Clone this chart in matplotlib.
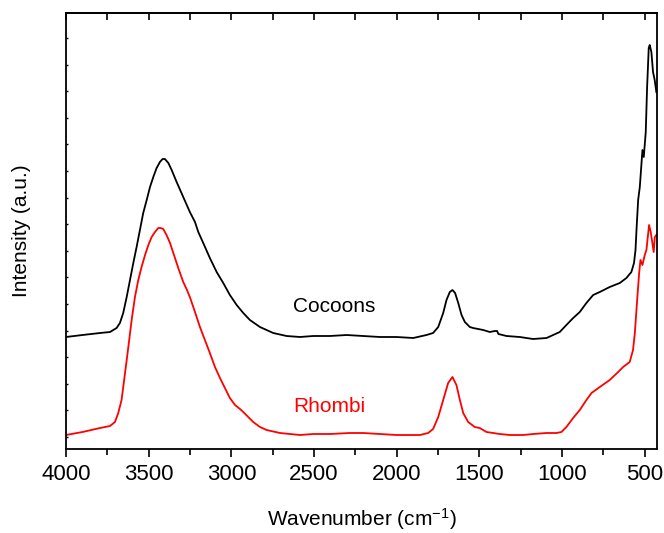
import matplotlib
matplotlib.use("Agg")
import matplotlib.pyplot as plt
from matplotlib.ticker import MultipleLocator, FixedLocator
import numpy as np

plt.rcParams['font.family'] = ['Liberation Sans', 'DejaVu Sans']
plt.rcParams['mathtext.fontset'] = 'custom'
plt.rcParams['mathtext.rm'] = 'Liberation Sans'
plt.rcParams['mathtext.it'] = 'Liberation Sans'

# Cocoons (black) spectrum: wavenumber (cm-1), intensity (a.u.)
wn_cocoons = [4000, 3900, 3794, 3734, 3694, 3674, 3654, 3633, 3613, 3593, 3573, 3553,
              3533, 3512, 3492, 3472, 3452, 3432, 3416, 3402, 3381, 3361, 3331, 3291,
              3251, 3220, 3200, 3170, 3130, 3089, 3049, 3009, 2968, 2928, 2888, 2827,
              2747, 2666, 2585, 2505, 2404, 2303, 2203, 2102, 2001, 1900, 1820, 1780,
              1749, 1719, 1699, 1679, 1663, 1647, 1628, 1608, 1588, 1558, 1538, 1477,
              1437, 1407, 1393, 1385, 1336, 1256, 1175, 1094, 1054, 1014, 974, 933,
              893, 853, 812, 772, 712, 651, 611, 581, 565, 556, 550, 540, 530, 514,
              506, 494, 486, 476, 470, 460, 450, 440, 430]
int_cocoons = [112, 114, 116, 117, 121, 126, 136, 152, 169, 186, 202, 219,
               236, 249, 262, 272, 281, 287, 290, 290, 286, 279, 267, 252,
               237, 227, 217, 206, 191, 177, 166, 154, 144, 136, 129, 122,
               116, 113, 112, 113, 113, 114, 113, 112, 112, 111, 114, 116,
               122, 136, 149, 157, 159, 156, 146, 134, 127, 122, 121, 119,
               117, 118, 118, 115, 113, 112, 110, 111, 114, 117, 124, 131,
               137, 146, 154, 157, 162, 166, 171, 177, 186, 199, 219, 249, 262, 299,
               292, 317, 361, 401, 404, 397, 377, 369, 357]

# Rhombi (red) spectrum
wn_rhombi = [4000, 3900, 3794, 3734, 3704, 3684, 3664, 3643, 3623, 3603, 3583, 3563,
             3543, 3522, 3502, 3482, 3462, 3442, 3428, 3412, 3392, 3371, 3351, 3321,
             3291, 3271, 3251, 3220, 3190, 3160, 3130, 3099, 3069, 3039, 3009, 2978,
             2948, 2928, 2898, 2868, 2827, 2787, 2706, 2585, 2505, 2404, 2283, 2203,
             2102, 2001, 1900, 1860, 1810, 1780, 1749, 1719, 1689, 1663, 1639, 1618,
             1598, 1568, 1528, 1498, 1457, 1417, 1377, 1316, 1236, 1175, 1094, 1034,
             1004, 974, 933, 893, 853, 822, 772, 712, 661, 631, 591, 571, 560, 546,
             534, 526, 514, 500, 490, 474, 464, 454, 446, 439, 430]
int_rhombi = [14, 17, 21, 23, 27, 36, 49, 76, 102, 129, 152, 169,
              182, 194, 204, 212, 217, 221, 221, 220, 214, 206, 196, 181,
              167, 160, 152, 137, 122, 109, 96, 82, 71, 61, 51, 44,
              40, 37, 32, 27, 22, 19, 16, 14, 15, 15, 16, 16,
              15, 14, 14, 14, 16, 20, 32, 49, 66, 72, 64, 49,
              36, 27, 22, 21, 17, 16, 15, 14, 14, 15, 16, 16,
              17, 22, 31, 39, 49, 56, 62, 69, 77, 82, 87, 99, 116, 149,
              176, 189, 184, 194, 199, 224, 217, 206, 197, 212, 214]

x_ticks = [4000, 3500, 3000, 2500, 2000, 1500, 1000, 500]
x_tick_labels = ["4000", "3500", "3000", "2500", "2000", "1500", "1000", "500"]

fig = plt.figure(figsize=(6.64, 5.33), dpi=100)
ax = fig.add_axes([66/664, 1 - 449/533, (657 - 66)/664, (449 - 13)/533])

ax.plot(wn_cocoons, int_cocoons, color='black', lw=1.3)
ax.plot(wn_rhombi, int_rhombi, color='red', lw=1.3)

ax.set_xlim(4000, 426)
ax.set_ylim(0, 436)

ax.set_xticks(x_ticks)
ax.set_xticklabels(x_tick_labels)
ax.xaxis.set_minor_locator(MultipleLocator(250))
ax.set_yticks([])
ax.yaxis.set_minor_locator(FixedLocator(np.arange(12, 436, 26.6)))

ax.tick_params(axis='x', which='both', bottom=True, top=False, direction='out',
               width=1.2, labelsize=16, pad=5)
ax.tick_params(axis='x', which='major', length=6)
ax.tick_params(axis='x', which='minor', length=4)
ax.tick_params(axis='y', which='minor', left=True, right=False, direction='in',
               length=1.5, width=1)

# top ticks (inward)
sec = ax.secondary_xaxis('top')
sec.set_xticks(x_ticks)
sec.xaxis.set_minor_locator(MultipleLocator(250))
sec.tick_params(axis='x', which='both', direction='in', labeltop=False, width=1.2)
sec.tick_params(axis='x', which='major', length=5)
sec.tick_params(axis='x', which='minor', length=5)
sec.spines['top'].set_linewidth(1.3)

for s in ax.spines.values():
    s.set_linewidth(1.3)

ax.set_xlabel("Wavenumber (cm$^{-1}$)", fontsize=15, labelpad=15)
ax.set_ylabel("Intensity (a.u.)", fontsize=15, labelpad=22)

ax.text(2628, 142, "Cocoons", color='black', fontsize=15, ha='left', va='center')
ax.text(2628, 42, "Rhombi", color='red', fontsize=15, ha='left', va='center')

fig.savefig("out.png", dpi=100)
